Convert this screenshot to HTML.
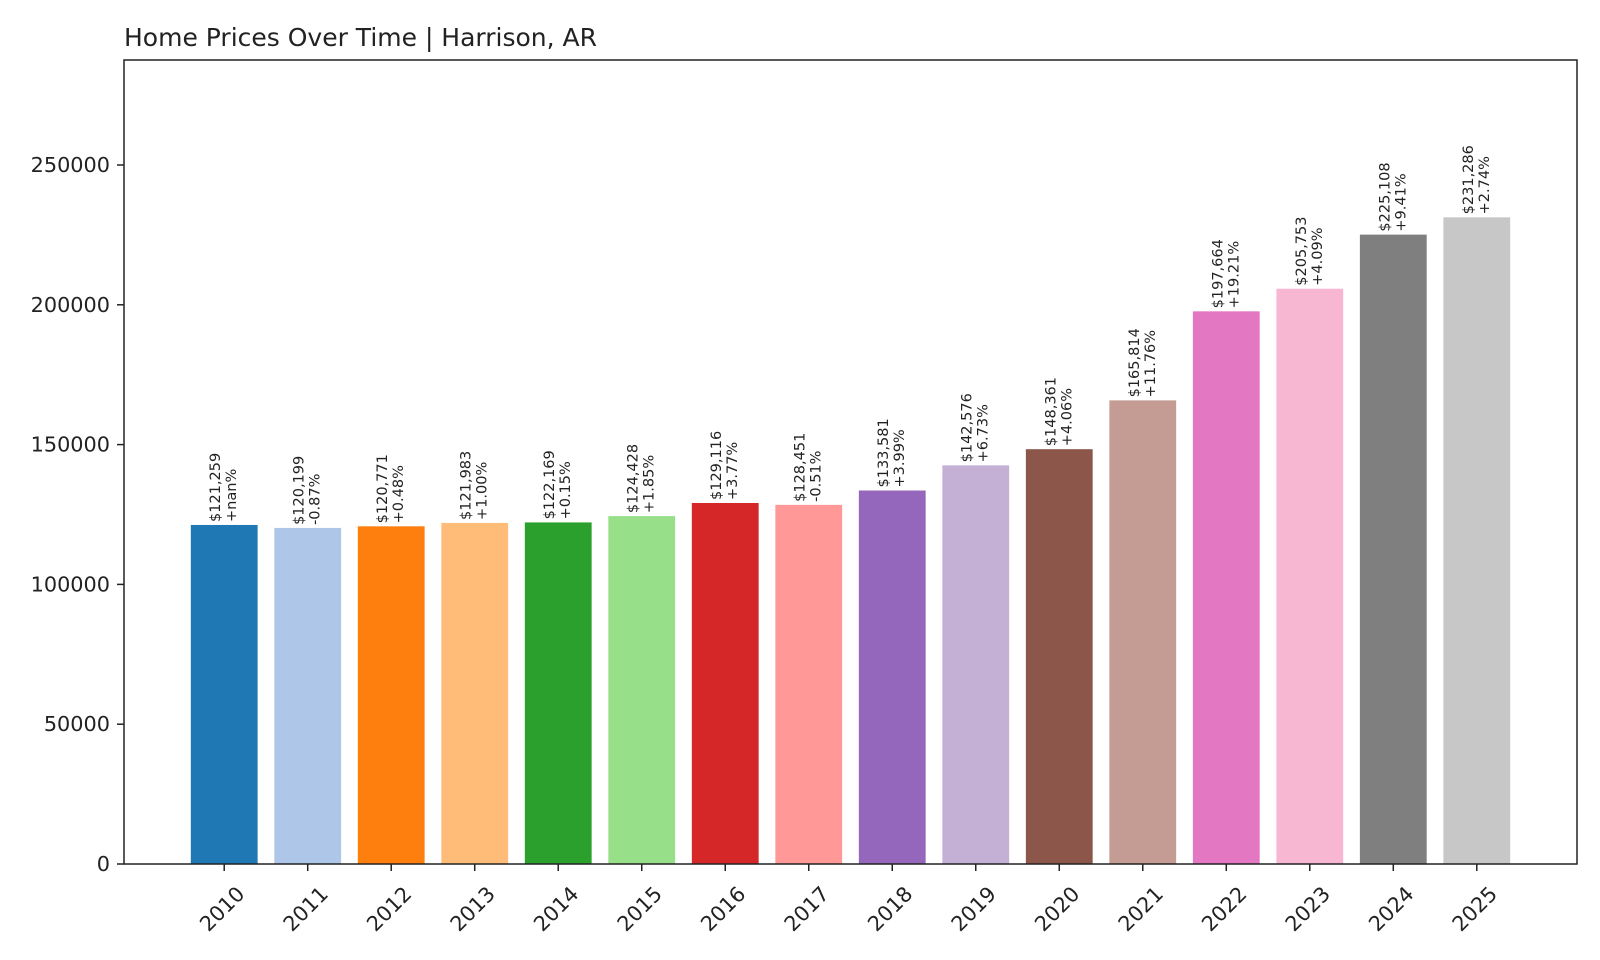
<!DOCTYPE html>
<html><head><meta charset="utf-8"><style>
body{margin:0;background:#fff}
svg{display:block;font-family:"DejaVu Sans","Liberation Sans",sans-serif}
</style></head><body>
<svg width="1600" height="960" viewBox="0 0 1600 960">
<rect width="1600" height="960" fill="#fff"/>
<text x="124" y="46" font-size="25" fill="#222">Home Prices Over Time | Harrison, AR</text>
<g id="bars"></g>
<g id="labels"></g>
<g id="yaxis"></g>
<g id="xaxis"></g>
<rect x="124" y="60" width="1453" height="804" fill="none" stroke="#222" stroke-width="1.5"/>
</svg>
<script>
const years = ["2010","2011","2012","2013","2014","2015","2016","2017","2018","2019","2020","2021","2022","2023","2024","2025"];
const prices = [121259,120199,120771,121983,122169,124428,129116,128451,133581,142576,148361,165814,197664,205753,225108,231286];
const changes = ["+nan%","-0.87%","+0.48%","+1.00%","+0.15%","+1.85%","+3.77%","-0.51%","+3.99%","+6.73%","+4.06%","+11.76%","+19.21%","+4.09%","+9.41%","+2.74%"];
const yTicks = [0,50000,100000,150000,200000,250000];
const colors = ["#1f77b4","#aec7e8","#ff7f0e","#ffbb78","#2ca02c","#98df8a","#d62728","#ff9896","#9467bd","#c5b0d5","#8c564b","#c49c94","#e377c2","#f7b6d2","#7f7f7f","#c7c7c7"];
const NS="http://www.w3.org/2000/svg";
const L=124,R=1577,T=60,B=864;
const xMin=-1.2,xMax=16.2,yMax=287554;
const xs=i=>L+(i-xMin)/(xMax-xMin)*(R-L);
const ys=v=>B-v/yMax*(B-T);
const bw=0.8*(R-L)/(xMax-xMin);
function mk(tag,attrs,parent){const e=document.createElementNS(NS,tag);for(const k in attrs)e.setAttribute(k,attrs[k]);parent.appendChild(e);return e;}
const gb=document.getElementById('bars'),gl=document.getElementById('labels'),gy=document.getElementById('yaxis'),gx=document.getElementById('xaxis');
years.forEach((yr,i)=>{
  const cx=xs(i),top=ys(prices[i]);
  const r=mk('rect',{x:cx-bw/2,y:top,width:bw,height:B-top,fill:colors[i]},gb);
  
  
  const lines=['$'+prices[i].toLocaleString('en-US'),changes[i]];
  lines.forEach((s,j)=>{
    const px=cx-8+j*16,py=top-3;
    const t=mk('text',{x:px,y:py,'font-size':14.5,fill:'#222','text-anchor':'start','dominant-baseline':'central',transform:`rotate(-90 ${px} ${py})`},gl);
    t.textContent=s;
    
    
  });
  const tk=mk('line',{x1:cx,x2:cx,y1:B,y2:B+7,stroke:'#222','stroke-width':1.5},gx);
  
  
  const lx=cx-2,ly=909;
  const tl=mk('text',{x:lx,y:ly,'font-size':20.8,fill:'#222','text-anchor':'middle','dominant-baseline':'central',transform:`rotate(-45 ${lx} ${ly})`},gx);
  tl.textContent=yr;
  
  
});
yTicks.forEach(v=>{
  const y=ys(v);
  const tk=mk('line',{x1:L-7,x2:L,y1:y,y2:y,stroke:'#222','stroke-width':1.5},gy);
  
  
  const t=mk('text',{x:L-14,y:y,'font-size':20.8,fill:'#222','text-anchor':'end','dominant-baseline':'central'},gy);
  t.textContent=v;
  
  
});
</script>
</body></html>
